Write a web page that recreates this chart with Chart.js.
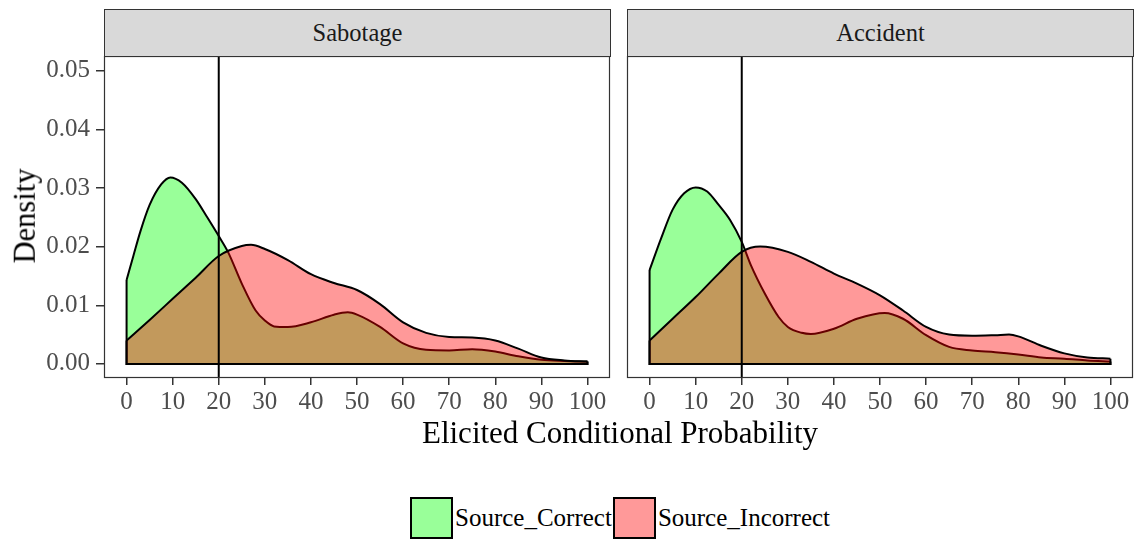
<!DOCTYPE html>
<html>
<head>
<meta charset="utf-8">
<script src="https://cdn.jsdelivr.net/npm/chart.js@4.4.1/dist/chart.umd.min.js"></script>
<style>
  body { margin: 0; background: #fff; font-family: "Liberation Serif", "Times New Roman", "DejaVu Serif", serif; }
  #wrap { position: relative; width: 1139px; height: 540px; overflow: hidden; background: #fff; }
  .strip { position: absolute; top: 9px; height: 48px; box-sizing: border-box; background: #d9d9d9;
           border: 1px solid #333; text-align: center; font-size: 24.5px; line-height: 46px; color: #1a1a1a; }
  .panel { position: absolute; top: 56px; }
  .title { position: absolute; white-space: nowrap; color: #000; line-height: 1; }
  #legend { position: absolute; left: 410px; top: 497px; display: flex; align-items: center; font-size: 25px; color: #000; }
  #legend .key { width: 43px; height: 42px; box-sizing: border-box; border: 2px solid #000; }
  #legend .lab { margin: 0 1px 0 2px; }
</style>
</head>
<body>
<div id="wrap">
  <div class="strip" id="strip0" style="left:104px;width:507px;"></div>
  <div class="strip" id="strip1" style="left:627px;width:507px;"></div>
  <div class="panel" style="left:0px;"><canvas id="chart0" width="612" height="370"></canvas></div>
  <div class="panel" style="left:612px;"><canvas id="chart1" width="524" height="370"></canvas></div>
  <div class="title" id="xTitle" style="left:620px;top:417px;font-size:31px;transform:translateX(-50%);"></div>
  <div class="title" id="yTitle" style="left:25px;top:216px;font-size:30.5px;transform:translate(-50%,-50%) rotate(-90deg);"></div>
  <div id="legend"></div>
</div>
<script>
// Facets, series and axes
const facets = ['Sabotage', 'Accident'];
const seriesNames = ['Source_Correct', 'Source_Incorrect'];
const seriesFills = ['rgba(0,255,0,0.4)', 'rgba(255,0,0,0.4)'];
const legendFills = ['#99ff99', '#ff9999'];
const xTitle = 'Elicited Conditional Probability';
const yTitle = 'Density';
const xTicks = [0, 10, 20, 30, 40, 50, 60, 70, 80, 90, 100];
const yTicks = [0, 0.01, 0.02, 0.03, 0.04, 0.05];
const yTickLabels = ['0.00', '0.01', '0.02', '0.03', '0.04', '0.05'];
const refLineX = 20;

// Sabotage densities
const sabotageCorrectX = [0, 1.5, 3, 5, 7.5, 9.5, 12, 15, 17.5, 20, 22, 25, 28, 30, 32, 35, 40, 45, 48, 50, 55, 60, 65, 70, 75, 80, 85, 90, 95, 100];
const sabotageCorrectY = [0.0143, 0.0185, 0.0226, 0.0271, 0.0306, 0.0318, 0.0309, 0.0281, 0.0250, 0.0218, 0.0191, 0.0137, 0.0091, 0.0074, 0.0064, 0.0063, 0.0071, 0.0084, 0.0088, 0.0084, 0.0063, 0.0035, 0.0024, 0.0023, 0.0025, 0.0021, 0.0013, 0.0007, 0.0005, 0.0004];
const sabotageIncorrectX = [0, 5, 10, 15, 20, 25, 27, 30, 35, 40, 45, 50, 55, 60, 65, 70, 75, 80, 85, 90, 95, 100];
const sabotageIncorrectY = [0.0040, 0.0075, 0.0111, 0.0147, 0.0184, 0.0201, 0.0203, 0.0196, 0.0177, 0.0153, 0.0138, 0.0126, 0.0102, 0.0071, 0.0053, 0.0046, 0.0045, 0.0040, 0.0026, 0.0011, 0.0006, 0.0004];

// Accident densities
const accidentCorrectX = [0, 2.5, 5, 7.5, 10, 12.5, 15, 17.5, 20, 22, 25, 28, 30, 33, 35, 40, 45, 51, 55, 60, 65, 70, 75, 80, 85, 90, 95, 100];
const accidentCorrectY = [0.0160, 0.0214, 0.0263, 0.0291, 0.0301, 0.0294, 0.0271, 0.0245, 0.0208, 0.0168, 0.0120, 0.0080, 0.0063, 0.0053, 0.0051, 0.0060, 0.0077, 0.0087, 0.0077, 0.0049, 0.0029, 0.0023, 0.0020, 0.0016, 0.0011, 0.0009, 0.0006, 0.0004];
const accidentIncorrectX = [0, 5, 10, 15, 20, 24, 30, 35, 40, 45, 50, 55, 60, 65, 70, 75, 78, 80, 85, 90, 95, 100];
const accidentIncorrectY = [0.0040, 0.0077, 0.0114, 0.0154, 0.0191, 0.0200, 0.0191, 0.0174, 0.0154, 0.0137, 0.0117, 0.0091, 0.0063, 0.0050, 0.0048, 0.0049, 0.0050, 0.0047, 0.0031, 0.0018, 0.0011, 0.0009];

const xRange = [-4.9, 104.9];
const yRange = [-0.0024, 0.0525];

const serif = '"Liberation Serif", "Times New Roman", "DejaVu Serif", serif';
const tickColor = '#4d4d4d';
const frameColor = '#333333';

const toPoints = (xs, ys) => xs.map((x, i) => ({ x: x, y: ys[i] }));
// closing edges of a density polygon: both ends down to the baseline
const toFrame = (xs, ys) => [
  { x: xs[0], y: ys[0] }, { x: xs[0], y: 0 },
  { x: xs[xs.length - 1], y: 0 }, { x: xs[xs.length - 1], y: ys[ys.length - 1] }
];

const buildDatasets = (series) => {
  const sets = [];
  series.forEach((s, i) => {
    sets.push({
      label: seriesNames[i],
      data: toPoints(s.x, s.y),
      fill: 'origin',
      backgroundColor: seriesFills[i],
      borderColor: '#000',
      borderWidth: 2,
      pointRadius: 0,
      cubicInterpolationMode: 'monotone',
      order: 10 - i * 2
    });
    sets.push({
      label: seriesNames[i] + ' edge',
      data: toFrame(s.x, s.y),
      fill: false,
      borderColor: '#000',
      borderWidth: 2,
      pointRadius: 0,
      tension: 0,
      order: 9 - i * 2
    });
  });
  sets.push({
    label: 'ref',
    data: [{ x: refLineX, y: yRange[0] }, { x: refLineX, y: yRange[1] }],
    fill: false,
    borderColor: '#000',
    borderWidth: 2,
    pointRadius: 0,
    order: 1
  });
  return sets;
};

// Panel border drawn around the chart area
const panelBorder = {
  id: 'panelBorder',
  afterDatasetsDraw(chart) {
    const a = chart.chartArea;
    const ctx = chart.ctx;
    ctx.save();
    ctx.strokeStyle = frameColor;
    ctx.lineWidth = 1.2;
    ctx.strokeRect(a.left + 0.5, a.top + 0.5, a.right - a.left - 1, a.bottom - a.top - 1);
    ctx.restore();
  }
};

const makeChart = (canvasId, series, showY, padding) => {
  const ctx = document.getElementById(canvasId).getContext('2d');
  return new Chart(ctx, {
    type: 'line',
    data: { datasets: buildDatasets(series) },
    options: {
      responsive: false,
      animation: false,
      devicePixelRatio: 1,
      layout: { padding: padding },
      plugins: { legend: { display: false }, tooltip: { enabled: false } },
      scales: {
        x: {
          type: 'linear',
          min: xRange[0],
          max: xRange[1],
          afterBuildTicks: (s) => { s.ticks = xTicks.map(v => ({ value: v })); },
          afterFit: (s) => { s.height = 48; s.paddingLeft = 0; s.paddingRight = 0; },
          grid: { drawOnChartArea: false, drawTicks: true, tickLength: 7, color: frameColor, lineWidth: 1.5 },
          border: { display: false },
          ticks: {
            autoSkip: false, maxRotation: 0, padding: 2, color: tickColor,
            font: { family: serif, size: 25 },
            callback: (v) => String(v)
          }
        },
        y: {
          type: 'linear',
          display: showY,
          min: yRange[0],
          max: yRange[1],
          afterBuildTicks: (s) => { s.ticks = yTicks.map(v => ({ value: v })); },
          afterFit: (s) => {
            s.width = showY ? 104 : 0;
            s.paddingTop = 0;
            s.paddingBottom = 0;
          },
          grid: { drawOnChartArea: false, drawTicks: true, tickLength: 8, color: frameColor, lineWidth: 1.5 },
          border: { display: false },
          ticks: {
            autoSkip: false, padding: 6, color: tickColor,
            font: { family: serif, size: 25 },
            callback: (v, i) => yTickLabels[i]
          }
        }
      }
    },
    plugins: [panelBorder]
  });
};

document.getElementById('strip0').textContent = facets[0];
document.getElementById('strip1').textContent = facets[1];
document.getElementById('xTitle').textContent = xTitle;
document.getElementById('yTitle').textContent = yTitle;

document.getElementById('legend').innerHTML = seriesNames.map((name, i) => `
  <span class="key" style="background:${legendFills[i]}"></span><span class="lab">${name}</span>
`).join('');

makeChart('chart0', [
  { x: sabotageCorrectX, y: sabotageCorrectY },
  { x: sabotageIncorrectX, y: sabotageIncorrectY }
], true, { left: 0, right: 2, top: 0, bottom: 0 });

makeChart('chart1', [
  { x: accidentCorrectX, y: accidentCorrectY },
  { x: accidentIncorrectX, y: accidentIncorrectY }
], false, { left: 15, right: 3, top: 0, bottom: 0 });
</script>
</body>
</html>
